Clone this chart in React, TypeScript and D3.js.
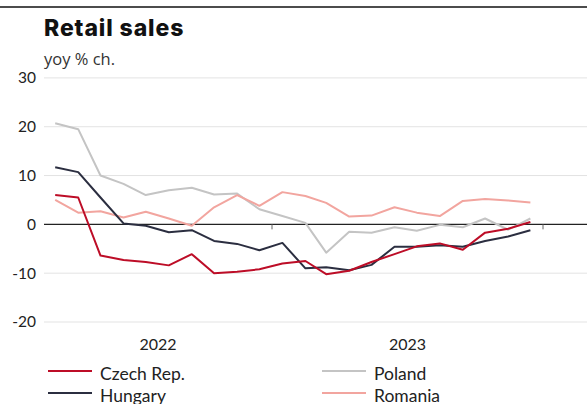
import React from "react";
import * as d3 from "d3";

const months = [
  "2022-03", "2022-04", "2022-05", "2022-06", "2022-07", "2022-08", "2022-09", "2022-10", "2022-11", "2022-12",
  "2023-01", "2023-02", "2023-03", "2023-04", "2023-05", "2023-06", "2023-07", "2023-08", "2023-09", "2023-10", "2023-11", "2023-12",
];
const czech = [6.0, 5.5, -6.4, -7.3, -7.7, -8.4, -6.1, -10.0, -9.7, -9.2, -8.0, -7.5, -10.2, -9.5, -7.7, -6.1, -4.5, -3.9, -5.2, -1.7, -0.9, 0.5];
const hungary = [11.7, 10.7, 5.5, 0.2, -0.3, -1.6, -1.2, -3.4, -4.0, -5.3, -3.8, -9.0, -8.8, -9.4, -8.3, -4.6, -4.6, -4.3, -4.6, -3.4, -2.5, -1.2];
const poland = [20.7, 19.5, 10.0, 8.3, 6.0, 7.0, 7.5, 6.1, 6.3, 3.1, 1.7, 0.3, -5.8, -1.5, -1.7, -0.6, -1.3, -0.1, -0.6, 1.2, -1.1, 1.2];
const romania = [5.0, 2.4, 2.7, 1.4, 2.6, 1.2, -0.3, 3.5, 6.0, 3.8, 6.6, 5.8, 4.4, 1.6, 1.8, 3.5, 2.4, 1.7, 4.8, 5.2, 4.9, 4.5];
const yTicks = [30, 20, 10, 0, -10, -20];
const yearLabels = ["2022", "2023"];

const W = 587;
const H = 404;
const LEFT = 44;
const FONT = "Lato, 'Source Sans Pro', sans-serif";

const seriesList = [
  { name: "Poland", values: poland, color: "#c4c4c4" },
  { name: "Romania", values: romania, color: "#f2a59f" },
  { name: "Hungary", values: hungary, color: "#2b2e40" },
  { name: "Czech Rep.", values: czech, color: "#bd0d27" },
];

const legendItems = [
  { name: "Czech Rep.", color: "#bd0d27", col: 0, row: 0 },
  { name: "Poland", color: "#c4c4c4", col: 1, row: 0 },
  { name: "Hungary", color: "#2b2e40", col: 0, row: 1 },
  { name: "Romania", color: "#f2a59f", col: 1, row: 1 },
];

export default function App() {
  const parse = (m: string) => {
    const [y, mo] = m.split("-").map(Number);
    return new Date(y, mo - 1, 15);
  };
  const dates = months.map(parse);
  const x = d3.scaleTime().domain([new Date(2022, 0, 1), new Date(2024, 0, 1)]).range([1, 543]);
  const y = d3.scaleLinear().domain([-20, 30]).range([322, 77.9]);
  const line = d3
    .line<number>()
    .x((_, i) => x(dates[i]))
    .y((v) => y(v));

  const yearTicks = [new Date(2023, 0, 1), new Date(2024, 0, 1)];
  const yearCenters = [
    (LEFT + x(new Date(2023, 0, 1))) / 2,
    (x(new Date(2023, 0, 1)) + x(new Date(2024, 0, 1))) / 2,
  ];

  return (
    <svg width={W} height={H} style={{ position: "absolute", left: 0, top: 0, background: "#fff" }}>
      <rect x={0} y={0} width={W} height={H} fill="#fff" />
      <line x1={0} x2={W} y1={7} y2={7} stroke="#111" strokeWidth={1.6} />
      <text x={LEFT} y={36} fontFamily="Inter, 'Open Sans', sans-serif" fontWeight={800} fontSize={23} letterSpacing={0.9} fill="#111">
        Retail sales
      </text>
      <text x={LEFT} y={65} fontFamily="'Open Sans', sans-serif" fontSize={16.5} fill="#333">
        yoy % ch.
      </text>
      {yTicks.map((t) => (
        <g key={t}>
          <line
            x1={LEFT}
            x2={W}
            y1={y(t)}
            y2={y(t)}
            stroke={t === 0 ? "#222" : "#e3e3e3"}
            strokeWidth={t === 0 ? 1.2 : 1}
          />
          <text x={36} y={y(t)} dy="0.35em" textAnchor="end" fontFamily={FONT} fontSize={15.5} fill="#222">
            {t}
          </text>
        </g>
      ))}
      {yearTicks.map((d, i) => (
        <line key={i} x1={x(d)} x2={x(d)} y1={y(0)} y2={y(0) + 5} stroke="#666" strokeWidth={1} />
      ))}
      {yearLabels.map((l, i) => (
        <text key={l} x={yearCenters[i]} y={344} dy="0.35em" textAnchor="middle" fontFamily={FONT} fontSize={16} fill="#222">
          {l}
        </text>
      ))}
      {seriesList.map((s) => (
        <path key={s.name} d={line(s.values) || ""} fill="none" stroke={s.color} strokeWidth={2} strokeLinejoin="round" />
      ))}
      {legendItems.map((it) => {
        const lx = it.col === 0 ? 48 : 322;
        const ly = it.row === 0 ? 371 : 393;
        return (
          <g key={it.name}>
            <line x1={lx} x2={lx + 44} y1={ly} y2={ly} stroke={it.color} strokeWidth={2} />
            <text x={lx + 52} y={ly + 9} fontFamily={FONT} fontSize={17.5} fill="#222">
              {it.name}
            </text>
          </g>
        );
      })}
    </svg>
  );
}
